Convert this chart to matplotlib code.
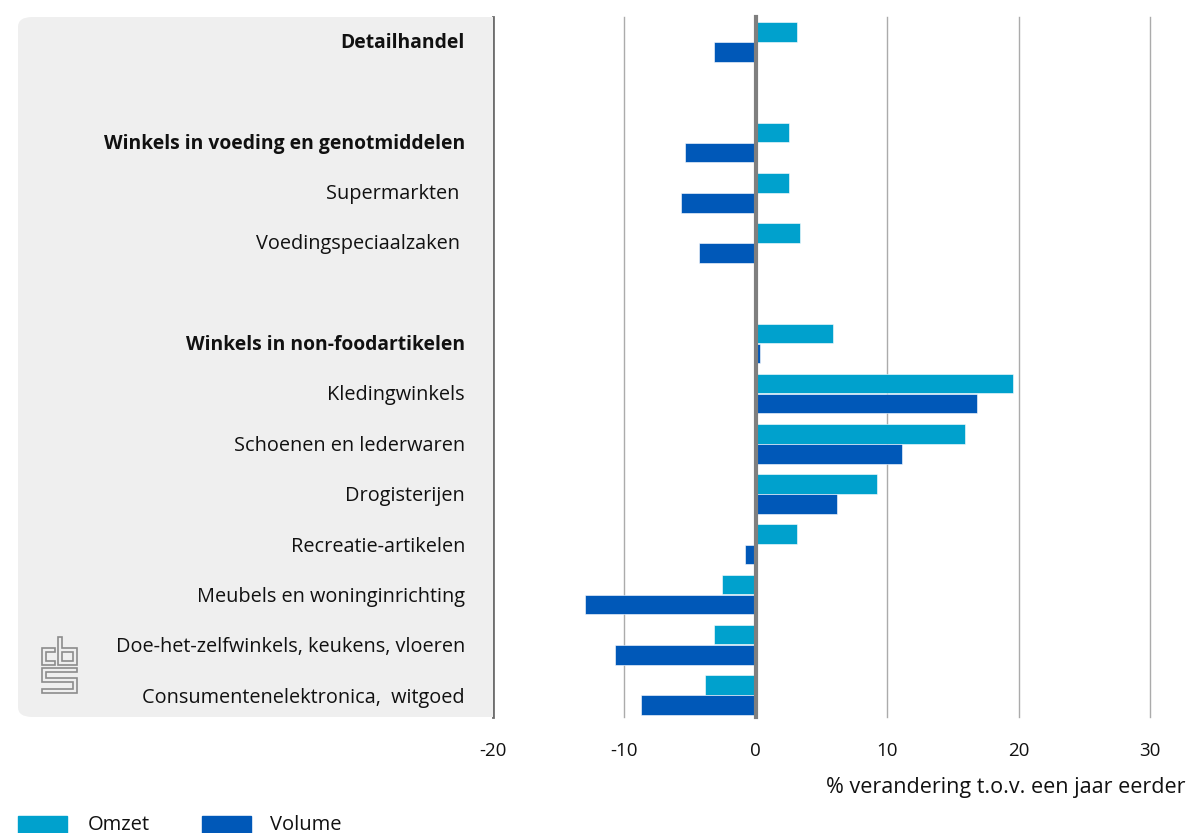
import numpy as np
import matplotlib
matplotlib.use("Agg")
import matplotlib.pyplot as plt
from matplotlib.patches import FancyBboxPatch, Polygon, Rectangle

plt.rcParams['font.family'] = ['Open Sans', 'DejaVu Sans']

# data (row positions keep the blank gap rows of the original)
labels = ['Detailhandel', 'Winkels in voeding en genotmiddelen', 'Supermarkten ',
          'Voedingspeciaalzaken ', 'Winkels in non-foodartikelen', 'Kledingwinkels',
          'Schoenen en lederwaren', 'Drogisterijen', 'Recreatie-artikelen',
          'Meubels en woninginrichting', 'Doe-het-zelfwinkels, keukens, vloeren',
          'Consumentenelektronica,  witgoed']
rows = [0, 2, 3, 4, 6, 7, 8, 9, 10, 11, 12, 13]
bold = [True, True, False, False, True, False, False, False, False, False, False, False]
omzet = [3.1, 2.5, 2.5, 3.4, 5.9, 19.6, 15.9, 9.2, 3.1, -2.6, -3.2, -3.9]
volume = [-3.2, -5.4, -5.7, -4.3, 0.3, 16.8, 11.1, 6.2, -0.8, -13.0, -10.7, -8.7]
xticks = [-20, -10, 0, 10, 20, 30]

c_omzet = '#00A1CD'
c_volume = '#0058B8'
txt = '#111111'

W, H = 1188, 833
fig = plt.figure(figsize=(W / 100, H / 100), dpi=100)


def fx(px):
    return px / W


def fy(py):
    return 1 - py / H


# grey label panel (square right side sits under the -20 axis line)
panel = FancyBboxPatch((fx(18), fy(717)), fx(480) - fx(18), fy(17) - fy(717),
                       boxstyle='round,pad=0,rounding_size=0.012',
                       transform=fig.transFigure, facecolor='#EFEFEF',
                       edgecolor='none', zorder=0)
fig.patches.append(panel)
fig.patches.append(Rectangle((fx(460), fy(717)), fx(493) - fx(460), fy(17) - fy(717),
                             transform=fig.transFigure, facecolor='#EFEFEF',
                             edgecolor='none', zorder=0))

ax = fig.add_axes([fx(493), fy(717), fx(1150) - fx(493), fy(17) - fy(717)])
ax.set_facecolor('none')
ax.set_xlim(-20, 30)
ax.set_ylim(13.44, -0.5)

y = np.array(rows, dtype=float)
bh = 0.39
ax.barh(y - 0.2, omzet, height=bh, color=c_omzet, edgecolor='white', linewidth=0.4, zorder=2)
ax.barh(y + 0.2, volume, height=bh, color=c_volume, edgecolor='white', linewidth=0.4, zorder=2)

for v in xticks:
    if v == -20:
        ax.axvline(v, color='#6E6E6E', lw=2, zorder=3, clip_on=False)
    elif v == 0:
        ax.axvline(v, color='#7F7F7F', lw=3, zorder=3, clip_on=False)
    else:
        ax.axvline(v, color='#ABABAB', lw=1, zorder=1, clip_on=False)

for s in ax.spines.values():
    s.set_visible(False)
ax.set_yticks([])
ax.set_xticks(xticks)
ax.set_xticklabels([str(v) for v in xticks], fontsize=13.5, color=txt)
ax.tick_params(axis='x', length=0, pad=18)

# category labels
for lab, r, b in zip(labels, rows, bold):
    ypx = 43 + r * 50.35
    fig.text(fx(465), fy(ypx), lab, ha='right', va='center',
             fontsize=13.9 if b else 14.3,
             fontweight='bold' if b else 'normal', color=txt)

fig.text(fx(1185), fy(788), '% verandering t.o.v. een jaar eerder', ha='right',
         va='center', fontsize=15.5, color=txt)

# legend
fig.patches.append(Rectangle((fx(18), fy(833)), fx(49), fy(816) - fy(833),
                             transform=fig.transFigure, color=c_omzet))
fig.text(fx(88), fy(825), 'Omzet', ha='left', va='center', fontsize=14.5, color=txt)
fig.patches.append(Rectangle((fx(202), fy(833)), fx(49), fy(816) - fy(833),
                             transform=fig.transFigure, color=c_volume))
fig.text(fx(270), fy(825), 'Volume', ha='left', va='center', fontsize=14.5, color=txt)

# cbs logo
logo = [
    [(55, 648), (42, 648), (42, 665), (55, 665), (55, 661), (46, 661), (46, 652), (55, 652)],
    [(58, 637), (62, 637), (62, 648), (77, 648), (77, 665), (58, 665)],
    [(62, 652), (73, 652), (73, 661), (62, 661)],
    [(77, 668), (42, 668), (42, 682), (73, 682), (73, 689), (42, 689), (42, 693),
     (77, 693), (77, 678), (46, 678), (46, 672), (77, 672)],
]
for pts in logo:
    fig.patches.append(Polygon([(fx(a), fy(b)) for a, b in pts], closed=True,
                               transform=fig.transFigure, fill=False,
                               edgecolor='#8C8C8C', lw=1.2))

fig.savefig('out.png', dpi=100)
